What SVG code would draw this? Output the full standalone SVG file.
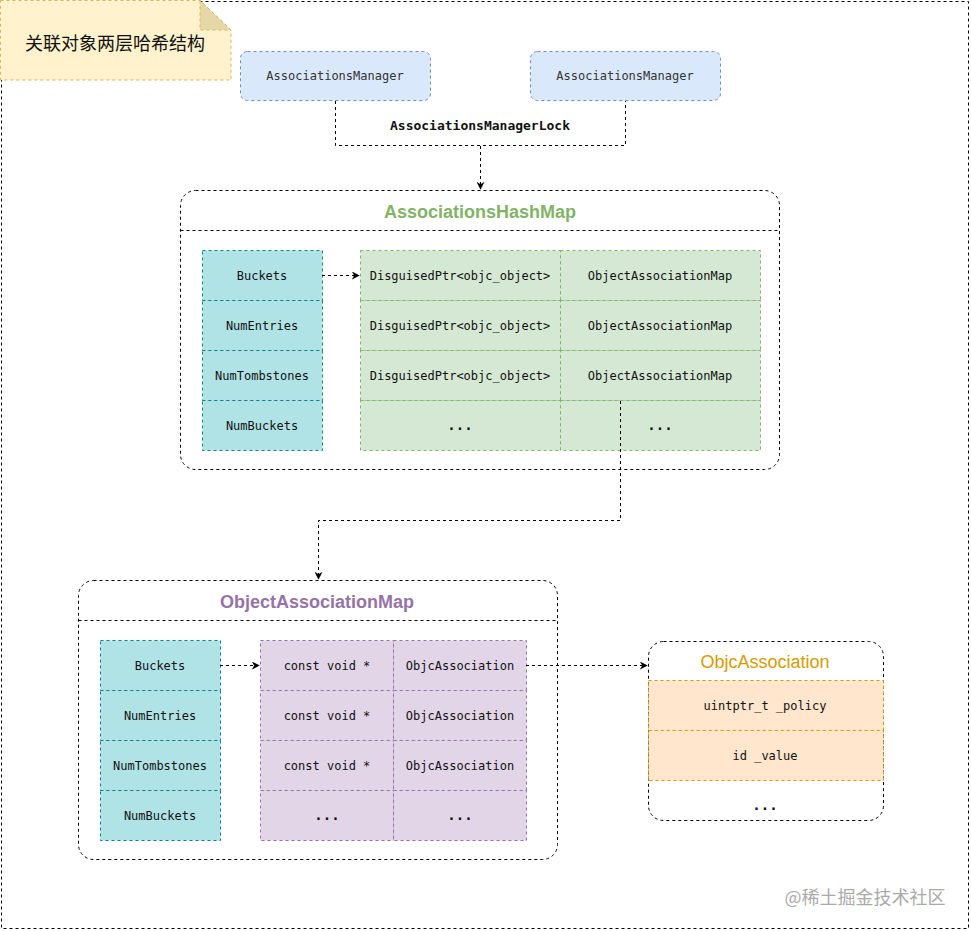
<svg xmlns="http://www.w3.org/2000/svg" width="971" height="931" viewBox="0 0 971 931">
<defs>
<style>
.dash{stroke-dasharray:3 3;}
.mono{font-family:"DejaVu Sans Mono","Liberation Mono",monospace;font-size:12px;fill:#111;text-anchor:middle;dominant-baseline:central;}
.title{font-family:"Liberation Sans",Arial,sans-serif;font-size:18px;font-weight:bold;text-anchor:middle;dominant-baseline:central;}
.cont{fill:#fff;stroke:#000;stroke-width:1;stroke-dasharray:3 3;}
.teal{fill:#b0e3e6;stroke:#0e8088;stroke-dasharray:3 3;}
.green{fill:#d5e8d4;stroke:#82b366;stroke-dasharray:3 3;}
.purple{fill:#e1d5e7;stroke:#9673a6;stroke-dasharray:3 3;}
.orange{fill:#ffe6cc;stroke:#d79b00;stroke-dasharray:3 3;}
.blue{fill:#dae8fc;stroke:#6c8ebf;stroke-dasharray:3 3;}
.conn{fill:none;stroke:#000;stroke-width:1;stroke-dasharray:3 3;}
.dots{font-family:"DejaVu Sans Mono",monospace;font-size:14px;font-weight:bold;fill:#111;text-anchor:middle;}
</style>
<marker id="arr" viewBox="0 0 10 10" refX="9" refY="5" markerWidth="8" markerHeight="8" orient="auto" markerUnits="userSpaceOnUse">
<path d="M0,0 L10,5 L0,10 L3,5 Z" fill="#000"/>
</marker>
</defs>
<rect width="971" height="931" fill="#fff"/>
<rect id="frame" x="1.5" y="1.5" width="967" height="927" fill="none" stroke="#000" class="dash"/>

<g id="note">
<path d="M0.5,0.5 L200,0.5 L231,30 L231,80 L0.5,80 Z" fill="#fff2cc" stroke="#d6b656" class="dash"/>
<path d="M200,0.5 L200,30 L231,30 Z" fill="#e6d7a8" stroke="#d6b656" class="dash"/>
<text x="115" y="42" font-family="'Noto Sans CJK SC',sans-serif" font-size="18" fill="#111" text-anchor="middle" dominant-baseline="central">关联对象两层哈希结构</text>
</g>

<g id="manager1">
<rect x="240.5" y="51.5" width="190" height="49" rx="7" class="blue"/>
<text x="335" y="76" class="mono" style="fill:#333">AssociationsManager</text>
</g>
<g id="manager2">
<rect x="530.5" y="51.5" width="190" height="49" rx="7" class="blue"/>
<text x="625" y="76" class="mono" style="fill:#333">AssociationsManager</text>
</g>

<g id="hashmap">
<rect x="180.5" y="190.5" width="599" height="279" rx="15" class="cont"/>
<line x1="180.5" y1="230.5" x2="779.5" y2="230.5" class="conn"/>
<text x="480" y="212" class="title" fill="#82b366">AssociationsHashMap</text>
<rect x="202.5" y="250.5" width="120" height="50" class="teal"/>
<rect x="202.5" y="300.5" width="120" height="50" class="teal"/>
<rect x="202.5" y="350.5" width="120" height="50" class="teal"/>
<rect x="202.5" y="400.5" width="120" height="50" class="teal"/>
<text x="262" y="276" class="mono">Buckets</text>
<text x="262" y="326" class="mono">NumEntries</text>
<text x="262" y="376" class="mono">NumTombstones</text>
<text x="262" y="426" class="mono">NumBuckets</text>
<rect x="360.5" y="250.5" width="200" height="50" class="green"/>
<rect x="560.5" y="250.5" width="200" height="50" class="green"/>
<rect x="360.5" y="300.5" width="200" height="50" class="green"/>
<rect x="560.5" y="300.5" width="200" height="50" class="green"/>
<rect x="360.5" y="350.5" width="200" height="50" class="green"/>
<rect x="560.5" y="350.5" width="200" height="50" class="green"/>
<rect x="360.5" y="400.5" width="200" height="50" class="green"/>
<rect x="560.5" y="400.5" width="200" height="50" class="green"/>
<text x="460" y="276" class="mono">DisguisedPtr&lt;objc_object&gt;</text>
<text x="660" y="276" class="mono">ObjectAssociationMap</text>
<text x="460" y="326" class="mono">DisguisedPtr&lt;objc_object&gt;</text>
<text x="660" y="326" class="mono">ObjectAssociationMap</text>
<text x="460" y="376" class="mono">DisguisedPtr&lt;objc_object&gt;</text>
<text x="660" y="376" class="mono">ObjectAssociationMap</text>
<text x="460" y="430" class="dots">...</text>
<text x="660" y="430" class="dots">...</text>
</g>

<g id="objassocmap">
<rect x="78.5" y="580.5" width="479" height="279" rx="15" class="cont"/>
<line x1="78.5" y1="620.5" x2="557.5" y2="620.5" class="conn"/>
<text x="317" y="602" class="title" fill="#9673a6">ObjectAssociationMap</text>
<rect x="100.5" y="640.5" width="120" height="50" class="teal"/>
<rect x="100.5" y="690.5" width="120" height="50" class="teal"/>
<rect x="100.5" y="740.5" width="120" height="50" class="teal"/>
<rect x="100.5" y="790.5" width="120" height="50" class="teal"/>
<text x="160" y="666" class="mono">Buckets</text>
<text x="160" y="716" class="mono">NumEntries</text>
<text x="160" y="766" class="mono">NumTombstones</text>
<text x="160" y="816" class="mono">NumBuckets</text>
<rect x="260.5" y="640.5" width="133" height="50" class="purple"/>
<rect x="393.5" y="640.5" width="133" height="50" class="purple"/>
<rect x="260.5" y="690.5" width="133" height="50" class="purple"/>
<rect x="393.5" y="690.5" width="133" height="50" class="purple"/>
<rect x="260.5" y="740.5" width="133" height="50" class="purple"/>
<rect x="393.5" y="740.5" width="133" height="50" class="purple"/>
<rect x="260.5" y="790.5" width="133" height="50" class="purple"/>
<rect x="393.5" y="790.5" width="133" height="50" class="purple"/>
<text x="327" y="666" class="mono">const void *</text>
<text x="460" y="666" class="mono">ObjcAssociation</text>
<text x="327" y="716" class="mono">const void *</text>
<text x="460" y="716" class="mono">ObjcAssociation</text>
<text x="327" y="766" class="mono">const void *</text>
<text x="460" y="766" class="mono">ObjcAssociation</text>
<text x="327" y="820" class="dots">...</text>
<text x="460" y="820" class="dots">...</text>
</g>

<g id="objcassoc">
<rect x="648.5" y="641.5" width="235" height="179" rx="15" class="cont"/>
<text x="765" y="662" font-family="'Liberation Sans',Arial,sans-serif" font-size="18" fill="#d79b00" text-anchor="middle" dominant-baseline="central">ObjcAssociation</text>
<rect x="648.5" y="680.5" width="235" height="50" class="orange"/>
<rect x="648.5" y="730.5" width="235" height="50" class="orange"/>
<text x="765" y="706" class="mono">uintptr_t _policy</text>
<text x="765" y="756" class="mono">id _value</text>
<text x="765" y="810" class="dots">...</text>
</g>

<g id="connectors">
<path d="M335.5,101 V145.5 H625.5 V101" class="conn"/>
<path d="M480.5,146 V189" class="conn" marker-end="url(#arr)"/>
<path d="M322,275.5 H359" class="conn" marker-end="url(#arr)"/>
<path d="M620.5,401 V520.5 H318.5 V579" class="conn" marker-end="url(#arr)"/>
<path d="M220,665.5 H259" class="conn" marker-end="url(#arr)"/>
<path d="M526,665.5 H647" class="conn" marker-end="url(#arr)"/>
</g>
<text id="lock-label" x="480" y="125" class="mono" style="font-weight:bold;font-size:13px">AssociationsManagerLock</text>

<text id="watermark" x="865" y="896" font-family="'Noto Sans CJK SC',sans-serif" font-size="18" fill="#aaa" text-anchor="middle" dominant-baseline="central">@稀土掘金技术社区</text>
</svg>
